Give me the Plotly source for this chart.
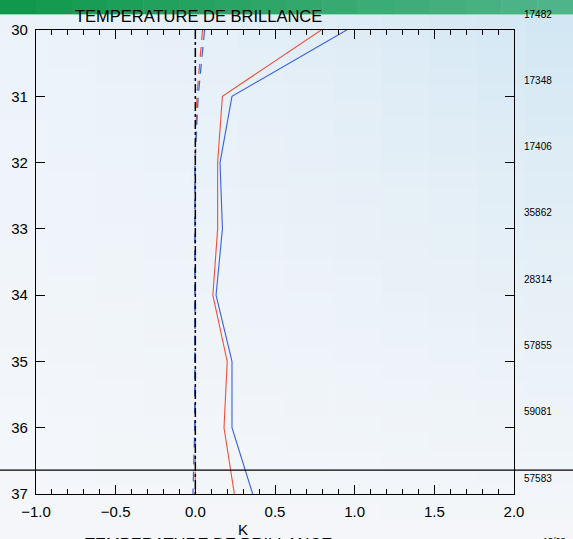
import plotly.graph_objects as go

# ---- data ----
levels = [30, 31, 32, 33, 34, 35, 36, 37]
red_solid = [0.79, 0.17, 0.14, 0.14, 0.11, 0.20, 0.18, 0.245]
blue_solid = [0.95, 0.23, 0.155, 0.17, 0.13, 0.23, 0.23, 0.36]
red_dash = [0.045, 0.01, 0.0, 0.0, 0.0, 0.0, 0.0, 0.0]
blue_dash = [0.058, 0.018, -0.003, -0.004, -0.003, -0.004, -0.004, -0.015]
counts = ["17482", "17348", "17406", "35862", "28314", "57855", "59081", "57583"]
hline_level = 36.64
title_text = "TEMPERATURE DE BRILLANCE"
date_text = "15/03"

W, H = 573, 539
L, R, T, B = 36, 59, 30, 45
pw, ph = W - L - R, H - T - B
ymin, ymax = 30, 37

def px2paper(px, py):
    return (px - L) / pw, (H - B - py) / ph

fig = go.Figure()
fig.add_trace(go.Scatter(x=red_dash, y=levels, mode="lines",
                         line=dict(color="#f0503a", width=1.2, dash="10px,7px")))
fig.add_trace(go.Scatter(x=blue_dash, y=levels, mode="lines",
                         line=dict(color="#3a62e0", width=1.2, dash="10px,7px")))
fig.add_trace(go.Scatter(x=[0, 0], y=[ymin, ymax], mode="lines",
                         line=dict(color="black", width=1.5, dash="dashdot")))
fig.add_trace(go.Scatter(x=red_solid, y=levels, mode="lines",
                         line=dict(color="#f0503a", width=1.1)))
fig.add_trace(go.Scatter(x=blue_solid, y=levels, mode="lines",
                         line=dict(color="#3a62e0", width=1.1)))

shapes = []
# background gradient
ncol, nrow = 12, 30
def lerp(a, b, t):
    return tuple(a[i] + (b[i] - a[i]) * t for i in range(3))
top_left, top_right = (236, 243, 251), (208, 230, 243)
bot = (245, 247, 250)
bar_top = 14
for i in range(ncol):
    for j in range(nrow):
        x0p = i * W / ncol
        x1p = (i + 1) * W / ncol
        y0p = bar_top + j * (H - bar_top) / nrow
        y1p = bar_top + (j + 1) * (H - bar_top) / nrow
        xf = (i + 0.5) / ncol
        yf = (j + 0.5) / nrow
        top = lerp(top_left, top_right, xf ** 1.3)
        c = lerp(top, bot, min(1.0, yf ** 0.8))
        a0, b0 = px2paper(x0p, y1p)
        a1, b1 = px2paper(x1p + 0.5, y0p - 0.5)
        shapes.append(dict(type="rect", xref="paper", yref="paper", x0=a0, y0=b0, x1=a1, y1=b1,
                           fillcolor="rgb(%d,%d,%d)" % tuple(int(v) for v in c),
                           line=dict(width=0), layer="below"))
# green bar
gl, gr = (14, 153, 74), (82, 182, 140)
nb = 16
for i in range(nb):
    x0p = i * W / nb
    x1p = (i + 1) * W / nb + 0.5
    c = lerp(gl, gr, (i + 0.5) / nb)
    a0, b0 = px2paper(x0p, bar_top)
    a1, b1 = px2paper(x1p, 0)
    shapes.append(dict(type="rect", xref="paper", yref="paper", x0=a0, y0=b0, x1=a1, y1=b1,
                       fillcolor="rgb(%d,%d,%d)" % tuple(int(v) for v in c),
                       line=dict(width=0), layer="below"))
a0, b0 = px2paper(0, bar_top + 1)
a1, b1 = px2paper(W, bar_top)
shapes.append(dict(type="rect", xref="paper", yref="paper", x0=a0, y0=b0, x1=a1, y1=b1,
                   fillcolor="rgb(150,215,185)", line=dict(width=0), layer="below"))

# horizontal line across figure
hy = (ymax - hline_level) / (ymax - ymin)
xa, _ = px2paper(0, 0)
xb, _ = px2paper(W, 0)
shapes.append(dict(type="line", xref="paper", yref="paper", x0=xa, x1=xb, y0=hy, y1=hy,
                   line=dict(color="black", width=1.2), layer="above"))

annotations = []
for lv, c in zip(levels, counts):
    yp = (ymax - (lv - 0.24)) / (ymax - ymin)
    annotations.append(dict(xref="paper", yref="paper", x=(522 - L) / pw, y=yp, text=c,
                            showarrow=False, xanchor="left", yanchor="middle",
                            font=dict(family="Liberation Sans", size=10, color="black")))
tx, ty = px2paper(198, 16)
annotations.append(dict(xref="paper", yref="paper", x=tx, y=ty, text=title_text, showarrow=False,
                        xanchor="center", yanchor="middle",
                        font=dict(family="Liberation Sans", size=16.5, color="black")))
bx, by = px2paper(208, 544)
annotations.append(dict(xref="paper", yref="paper", x=bx, y=by, text=title_text, showarrow=False,
                        xanchor="center", yanchor="middle",
                        font=dict(family="Liberation Sans", size=16.5, color="black")))
kx, ky = px2paper(243, 529)
annotations.append(dict(xref="paper", yref="paper", x=kx, y=ky, text="K", showarrow=False,
                        xanchor="center", yanchor="middle",
                        font=dict(family="Liberation Sans", size=15, color="black")))
dx, dy = px2paper(541, 541)
annotations.append(dict(xref="paper", yref="paper", x=dx, y=dy, text=date_text, showarrow=False,
                        xanchor="left", yanchor="middle",
                        font=dict(family="Liberation Sans", size=9, color="black")))

fig.update_layout(
    width=W, height=H,
    margin=dict(l=L, r=R, t=T, b=B, pad=0),
    paper_bgcolor="rgb(240,245,250)",
    plot_bgcolor="rgba(0,0,0,0)",
    showlegend=False,
    shapes=shapes,
    annotations=annotations,
    font=dict(family="Liberation Sans", size=15, color="black"),
    xaxis=dict(range=[-1, 2], dtick=0.5, tick0=0, tickformat=".1f", ticks="inside", ticklen=9,
               tickcolor="black", tickwidth=1, showline=True, linecolor="black", linewidth=1.2,
               mirror="allticks", showgrid=False, zeroline=False, ticklabelstandoff=4,
               minor=dict(dtick=0.1, ticks="inside", ticklen=5, tickcolor="black", showgrid=False),
               tickfont=dict(size=15)),
    yaxis=dict(range=[ymax, ymin], dtick=1, ticks="inside", ticklen=9, tickcolor="black",
               showline=True, linecolor="black", linewidth=1.2, mirror="allticks",
               showgrid=False, zeroline=False, ticklabelstandoff=4, tickfont=dict(size=15)),
)

fig.write_html("out.html")
